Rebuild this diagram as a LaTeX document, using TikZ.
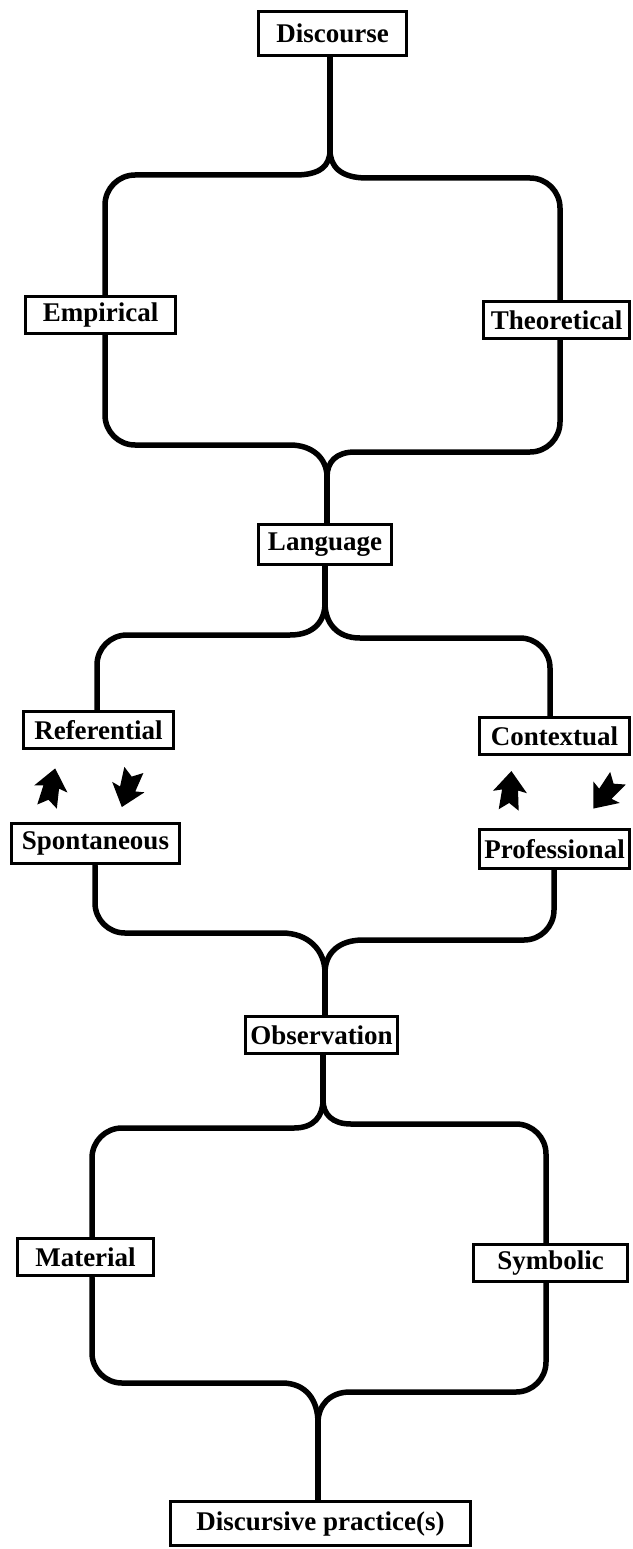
\documentclass[tikz,border=0pt]{standalone}
\usepackage{fontspec}
\setmainfont{Liberation Serif}
\begin{document}
\begin{tikzpicture}[x=1pt,y=1pt,
  box/.style={draw,line width=3.5pt,inner sep=0pt,fill=white,
    font=\bfseries\fontsize{27}{30}\selectfont},
  conn/.style={line width=5.5pt,line join=round,line cap=round},
  barrow/.pic={\fill[black] (0,20) -- (17,-1) -- (8,1) -- (10,-19) -- (0,-12) -- (-10,-19) -- (-8,1) -- (-17,-1) -- cycle;}]
\useasboundingbox[fill=white] (0,0) rectangle (632,-1549);

% coordinates
\coordinate (f1) at (330,-150);
\coordinate (j1) at (327,-477);
\coordinate (f2) at (325,-603);
\coordinate (j2) at (325,-973);
\coordinate (f3) at (323,-1100);
\coordinate (j3) at (318,-1423);
\coordinate (xL1) at (105,0);
\coordinate (xR1) at (560,0);
\coordinate (xL2) at (97,0);
\coordinate (xR2) at (550,0);
\coordinate (xL3) at (95,0);
\coordinate (xR3) at (554,0);
\coordinate (xL4) at (92,0);
\coordinate (xR4) at (546,0);

% nodes
\node[box,minimum width=148pt,minimum height=44pt] (dis) at (332.5,-33.5) {Discourse};
\node[box,minimum width=150pt,minimum height=37pt] (emp) at (100.5,-315) {Empirical};
\node[box,minimum width=146pt,minimum height=37pt] (the) at (556.5,-320) {Theoretical};
\node[box,minimum width=133pt,minimum height=40pt] (lan) at (325,-544.5) {Language};
\node[box,minimum width=150pt,minimum height=37pt] (ref) at (98.5,-730) {Referential};
\node[box,minimum width=150pt,minimum height=37pt] (con) at (554.5,-736) {Contextual};
\node[box,minimum width=168pt,minimum height=40pt] (spo) at (95.5,-843.5) {Spontaneous};
\node[box,minimum width=150pt,minimum height=39pt] (pro) at (554.5,-849) {Professional};
\node[box,minimum width=152pt,minimum height=37pt] (obs) at (321.5,-1035) {Observation};
\node[box,minimum width=136pt,minimum height=37pt] (mat) at (85.5,-1257) {Material};
\node[box,minimum width=154pt,minimum height=37pt] (sym) at (550.5,-1263) {Symbolic};
\node[box,minimum width=300pt,minimum height=44pt] (dpr) at (320.5,-1523.5) {Discursive practice(s)};

% section 1
\draw[conn] (dis.south -| f1) -- (f1);
\draw[conn] (f1) .. controls (330,-166) and (320,-175) .. (295,-175)
  [rounded corners=30pt] -- (105,-175) -- (emp.north -| xL1);
\draw[conn] (f1) .. controls (330,-166) and (340,-178) .. (367,-178)
  [rounded corners=30pt] -- (560,-178) -- (the.north -| xR1);
\draw[conn] (j1) .. controls (327,-458) and (312,-445) .. (290,-445)
  [rounded corners=30pt] -- (105,-445) -- (emp.south -| xL1);
\draw[conn] (j1) .. controls (327,-462) and (336,-452) .. (355,-452)
  [rounded corners=30pt] -- (560,-452) -- (the.south -| xR1);
\draw[conn] (j1) -- (lan.north -| j1);

% section 2
\draw[conn] (lan.south -| f2) -- (f2);
\draw[conn] (f2) .. controls (325,-620) and (315,-635) .. (290,-635)
  [rounded corners=30pt] -- (97,-635) -- (ref.north -| xL2);
\draw[conn] (f2) .. controls (325,-622) and (336,-638) .. (360,-638)
  [rounded corners=30pt] -- (550,-638) -- (con.north -| xR2);
\draw[conn] (j2) .. controls (325,-950) and (308,-933) .. (282,-933)
  [rounded corners=30pt] -- (95,-933) -- (spo.south -| xL3);
\draw[conn] (j2) .. controls (325,-952) and (340,-940) .. (363,-940)
  [rounded corners=30pt] -- (554,-940) -- (pro.south -| xR3);
\draw[conn] (j2) -- (obs.north -| j2);

% section 3
\draw[conn] (obs.south -| f3) -- (f3);
\draw[conn] (f3) .. controls (323,-1116) and (314,-1128) .. (294,-1128)
  [rounded corners=30pt] -- (92,-1128) -- (mat.north -| xL4);
\draw[conn] (f3) .. controls (323,-1114) and (332,-1124) .. (351,-1124)
  [rounded corners=30pt] -- (546,-1124) -- (sym.north -| xR4);
\draw[conn] (j3) .. controls (318,-1400) and (306,-1383) .. (282,-1383)
  [rounded corners=30pt] -- (92,-1383) -- (mat.south -| xL4);
\draw[conn] (j3) .. controls (318,-1405) and (330,-1392) .. (350,-1392)
  [rounded corners=30pt] -- (546,-1392) -- (sym.south -| xR4);
\draw[conn] (j3) -- (dpr.north -| j3);

% block arrows
\pic[rotate=-12] at (51,-788) {barrow};
\pic[rotate=162] at (128,-788) {barrow};
\pic[rotate=-4] at (510,-791) {barrow};
\pic[rotate=141] at (606,-793) {barrow};
\end{tikzpicture}
\end{document}
